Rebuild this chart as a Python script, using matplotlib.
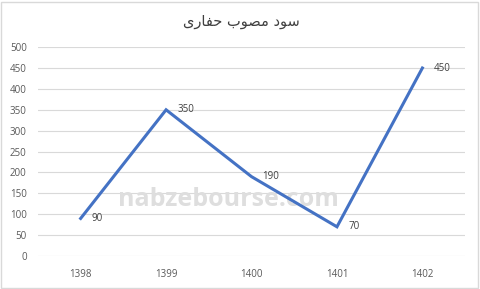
import matplotlib
matplotlib.use("Agg")
import matplotlib.pyplot as plt
from matplotlib.patches import Rectangle

years = ["1398", "1399", "1400", "1401", "1402"]
profit = [90, 350, 190, 70, 450]
y_ticks = [0, 50, 100, 150, 200, 250, 300, 350, 400, 450, 500]
# "سود مصوب حفاری" written with presentation forms in visual order (no shaping in matplotlib)
title = "\uFEEF\uFEAD\uFE8E\uFED4\uFEA3 \uFE8F\uFEEE\uFEBC\uFEE3 \uFEA9\uFEEE\uFEB3"

plt.rcParams['font.family'] = ['Open Sans', 'DejaVu Sans']

fig = plt.figure(figsize=(4.8, 2.89), dpi=100)
ax = fig.add_axes([0.079, 0.114, 0.89, 0.723])

x = list(range(len(years)))
ax.plot(x, profit, color="#4472C4", linewidth=2.2, solid_joinstyle="miter", zorder=3)
for xi, v in zip(x, profit):
    ax.annotate(str(v), (xi, v), xytext=(8, 0), textcoords="offset points",
                ha="left", va="center", fontsize=7, color="#404040", zorder=4)

ax.set_xlim(-0.5, len(years) - 0.5)
ax.set_ylim(0, 500)
ax.set_xticks(x)
ax.set_xticklabels(years)
ax.set_yticks(y_ticks)
ax.tick_params(axis="both", length=0, labelsize=7, colors="#595959")
ax.tick_params(axis="x", pad=9)
ax.tick_params(axis="y", pad=8)
ax.grid(axis="y", color="#d9d9d9", linewidth=0.8)
ax.set_axisbelow(True)
for s in ax.spines.values():
    s.set_visible(False)

# watermark, behind the line
ax.text(0.445, 0.27, "nabzebourse.com", transform=ax.transAxes, fontsize=18,
        fontweight="bold", color="#dedede", ha="center", va="center", zorder=1)

fig.text(0.502, 0.925, title, fontsize=10.5, color="#404040", ha="center", va="center",
         family=["DejaVu Sans"])

fig.patches.append(Rectangle((0.002, 0.004), 0.994, 0.99, transform=fig.transFigure,
                             fill=False, edgecolor="#d9d9d9", linewidth=1))

fig.savefig("out.png", dpi=100)
